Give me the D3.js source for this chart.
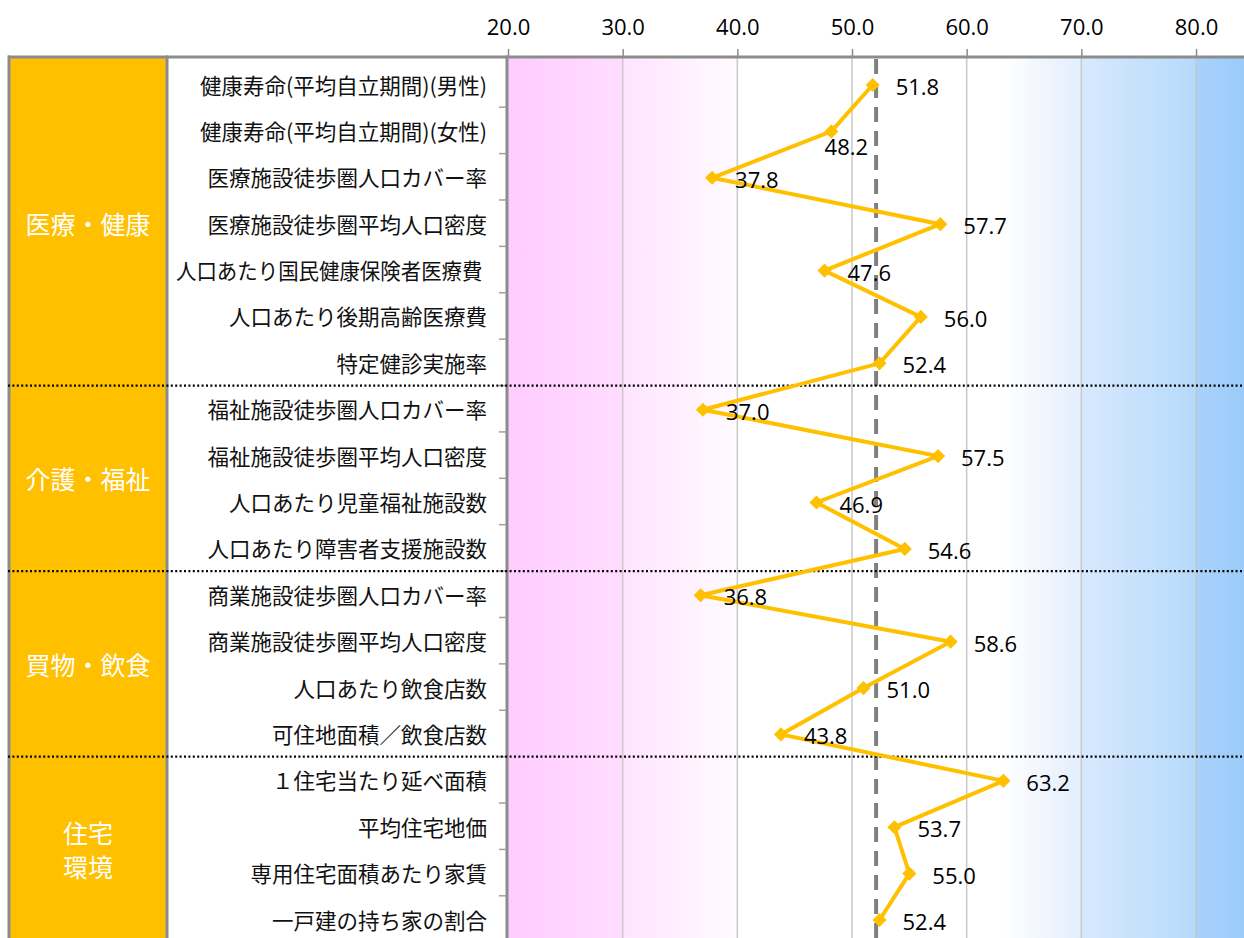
<!DOCTYPE html>
<html>
<head>
<meta charset="utf-8">
<script src="https://cdn.jsdelivr.net/npm/d3@7"></script>
<style>
  html, body { margin: 0; padding: 0; background: #fff; }
  svg { display: block; }
  text.cat { white-space: pre; }
</style>
</head>
<body>
<svg id="chart" width="1244" height="938"></svg>
<script>
// ---- data ----
const categories = [
  "健康寿命(平均自立期間)(男性)",
  "健康寿命(平均自立期間)(女性)",
  "医療施設徒歩圏人口カバー率",
  "医療施設徒歩圏平均人口密度",
  "人口あたり国民健康保険者医療費 ",
  "人口あたり後期高齢医療費",
  "特定健診実施率",
  "福祉施設徒歩圏人口カバー率",
  "福祉施設徒歩圏平均人口密度",
  "人口あたり児童福祉施設数",
  "人口あたり障害者支援施設数",
  "商業施設徒歩圏人口カバー率",
  "商業施設徒歩圏平均人口密度",
  "人口あたり飲食店数",
  "可住地面積／飲食店数",
  "１住宅当たり延べ面積",
  "平均住宅地価",
  "専用住宅面積あたり家賃",
  "一戸建の持ち家の割合"
];
const values = [51.8, 48.2, 37.8, 57.7, 47.6, 56.0, 52.4,
                37.0, 57.5, 46.9, 54.6,
                36.8, 58.6, 51.0, 43.8,
                63.2, 53.7, 55.0, 52.4];
const labelPlacement = ["right","below","right","right","right","right","right",
                        "right","right","right","right",
                        "right","right","right","right",
                        "right","right","right","right"];
const groupNames = [["医療・健康"], ["介護・福祉"], ["買物・飲食"], ["住宅", "環境"]];
const groupStart = [0, 7, 11, 15];
const groupEnd   = [6, 10, 14, 18];
const xTicks = [20, 30, 40, 50, 60, 70, 80];
const xDomain = [20, 85];
const referenceValue = 52.1;
const bgBands = [
  {from: 20, to: 30, c0: "#FFCCFF", c1: "#FFDDFF", o0: 0},
  {from: 30, to: 40, c0: "#FFE4FF", c1: "#FFFBFF", o0: 0},
  {from: 60, to: 70, c0: "#FFFFFF", c1: "#E3EEFD", o0: 0.3},
  {from: 70, to: 80, c0: "#D8E9FD", c1: "#B6DAFC", o0: 0},
  {from: 80, to: 85, c0: "#A8D2FB", c1: "#99C9FA", o0: 0}
];

// ---- layout ----
const W = 1244, H = 938;
const plotTop = 57;
const plotLeft = 508;
const svg = d3.select("#chart");

const x = d3.scaleLinear().domain(xDomain).range([plotLeft, plotLeft + (xDomain[1] - xDomain[0]) * 11.467]);
const y = d3.scalePoint().domain(d3.range(categories.length)).range([84, 919]);
const step = y.step();

const defs = svg.append("defs");
defs.append("clipPath").attr("id", "plotClip")
  .append("rect").attr("x", plotLeft).attr("y", plotTop).attr("width", W - plotLeft).attr("height", H - plotTop);

// gold group panel
svg.append("rect").attr("x", 10).attr("y", plotTop).attr("width", 157).attr("height", H - plotTop).attr("fill", "#FFC000");

// background bands
bgBands.forEach((b, i) => {
  const g = defs.append("linearGradient").attr("id", "bg" + i).attr("x1", "0%").attr("x2", "100%").attr("y1", "0%").attr("y2", "0%");
  g.append("stop").attr("offset", b.o0).attr("stop-color", b.c0);
  g.append("stop").attr("offset", 1).attr("stop-color", b.c1);
});
const plotG = svg.append("g").attr("clip-path", "url(#plotClip)");
plotG.selectAll("rect.band").data(bgBands).join("rect")
  .attr("class", "band")
  .attr("x", d => x(d.from)).attr("width", d => x(d.to) - x(d.from))
  .attr("y", plotTop).attr("height", H - plotTop)
  .attr("fill", (d, i) => `url(#bg${i})`);

// gridlines
plotG.selectAll("line.grid").data(xTicks.slice(1)).join("line")
  .attr("class", "grid")
  .attr("x1", d => x(d)).attr("x2", d => x(d))
  .attr("y1", plotTop).attr("y2", H)
  .attr("stroke", "#C8C8C8").attr("stroke-width", 1.5);

// top axis
const axis = d3.axisTop(x).tickValues(xTicks).tickFormat(d3.format(".1f")).tickSize(8).tickPadding(14);
const axG = svg.append("g").attr("transform", `translate(0,${plotTop})`).call(axis);
axG.select(".domain").remove();
axG.selectAll(".tick line").attr("stroke", "#8C8C8C").attr("stroke-width", 1.5);
axG.selectAll(".tick text")
  .attr("font-family", "'Open Sans', 'Noto Sans', sans-serif")
  .attr("font-size", 22).attr("fill", "#000");

// reference dashed line
svg.append("line")
  .attr("x1", x(referenceValue)).attr("x2", x(referenceValue))
  .attr("y1", plotTop + 2).attr("y2", H)
  .attr("stroke", "#808080").attr("stroke-width", 4)
  .attr("stroke-dasharray", "15,9");

// borders
svg.append("line").attr("x1", 8).attr("x2", W).attr("y1", plotTop).attr("y2", plotTop)
  .attr("stroke", "#8C8C8C").attr("stroke-width", 3);
[9, 167, plotLeft - 1].forEach(xx => {
  svg.append("line").attr("x1", xx).attr("x2", xx).attr("y1", plotTop - 1.5).attr("y2", H)
    .attr("stroke", "#8C8C8C").attr("stroke-width", 3);
});

// category tick marks on left of plot
svg.selectAll("line.ctick").data(d3.range(1, categories.length)).join("line")
  .attr("class", "ctick")
  .attr("x1", plotLeft - 9).attr("x2", plotLeft - 2)
  .attr("y1", d => y(d) - step / 2).attr("y2", d => y(d) - step / 2)
  .attr("stroke", "#A0A0A0").attr("stroke-width", 1.5);

// category labels
const maxLabelW = 311;
svg.selectAll("text.cat").data(categories).join("text")
  .attr("class", "cat")
  .attr("x", 487).attr("y", (d, i) => y(i))
  .attr("text-anchor", "end").attr("dominant-baseline", "central")
  .attr("font-family", "'Noto Sans CJK JP', sans-serif")
  .attr("font-size", 21.5).attr("fill", "#111")
  .text(d => d)
  .each(function () {
    const w = this.getComputedTextLength();
    if (w > maxLabelW) {
      d3.select(this).attr("textLength", maxLabelW).attr("lengthAdjust", "spacingAndGlyphs");
    }
  });

// group separators (dotted)
groupStart.slice(1).forEach(s => {
  const yy = y(s) - step / 2;
  svg.append("line").attr("x1", 8).attr("x2", W).attr("y1", yy).attr("y2", yy)
    .attr("stroke", "#000").attr("stroke-width", 2.2).attr("stroke-dasharray", "2,2.4");
});

// group labels
groupNames.forEach((lines, gi) => {
  const cy = (y(groupStart[gi]) + y(groupEnd[gi])) / 2;
  const lh = 34;
  lines.forEach((t, li) => {
    svg.append("text")
      .attr("x", 88).attr("y", cy + (li - (lines.length - 1) / 2) * lh)
      .attr("text-anchor", "middle").attr("dominant-baseline", "central")
      .attr("font-family", "'Noto Sans CJK JP', sans-serif")
      .attr("font-size", 25).attr("fill", "#fff")
      .text(t);
  });
});

// data line
const line = d3.line().x(d => x(d)).y((d, i) => y(i) + 1);
svg.append("path").datum(values)
  .attr("d", line).attr("fill", "none")
  .attr("stroke", "#FFC000").attr("stroke-width", 4).attr("stroke-linejoin", "miter");

// markers
const diamond = d3.symbol().type(d3.symbolSquare).size(100);
svg.selectAll("path.mk").data(values).join("path")
  .attr("class", "mk")
  .attr("d", diamond)
  .attr("transform", (d, i) => `translate(${x(d)},${y(i) + 1}) rotate(45)`)
  .attr("fill", "#FFC000");

// data labels
svg.selectAll("text.val").data(values).join("text")
  .attr("class", "val")
  .attr("x", (d, i) => labelPlacement[i] === "below" ? x(d) + 15 : x(d) + 23)
  .attr("y", (d, i) => labelPlacement[i] === "below" ? y(i) + 16 : y(i) + 2)
  .attr("text-anchor", (d, i) => labelPlacement[i] === "below" ? "middle" : "start")
  .attr("dominant-baseline", "central")
  .attr("font-family", "'Open Sans', 'Noto Sans', sans-serif")
  .attr("font-size", 22).attr("fill", "#000")
  .text(d => d3.format(".1f")(d));
</script>
</body>
</html>
